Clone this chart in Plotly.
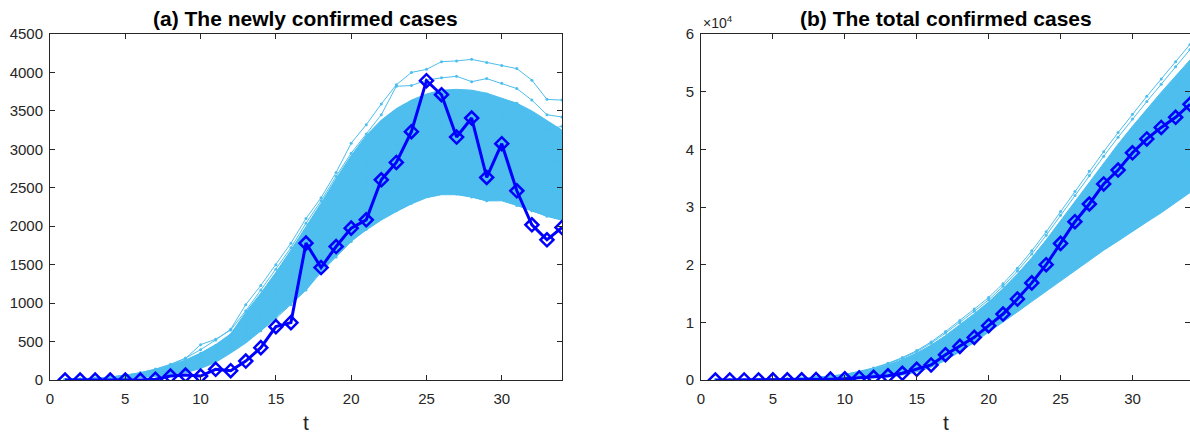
import plotly.graph_objects as go

# ---------------- data ----------------
t = list(range(1, 35))

# observed daily new confirmed cases
new_obs = [0, 0, 0, 0, 0, 0, 10, 52, 65, 52, 139, 121, 247, 421, 694, 746, 1780, 1463,
           1736, 1975, 2083, 2604, 2830, 3229, 3893, 3710, 3160, 3407, 2634, 3073, 2461,
           2018, 1823, 1984]

# observed cumulative confirmed cases
total_obs = [0, 5, 10, 15, 20, 25, 35, 80, 150, 210, 350, 470, 720, 1160, 1850, 2610,
             4390, 5830, 7390, 9420, 11440, 14040, 16840, 19990, 23690, 27450, 30520,
             33990, 36400, 39400, 41800, 43800, 45550, 47800]

# simulated new cases: band limits of the dense bundle
new_sim_low = [0, 2, 5, 10, 18, 30, 45, 65, 95, 150, 230, 350, 480, 640, 820, 1000, 1170,
               1420, 1620, 1810, 1950, 2080, 2190, 2290, 2370, 2410, 2410, 2380, 2330, 2330,
               2270, 2200, 2130, 2080]
new_sim_high = [6, 12, 22, 38, 60, 92, 135, 190, 260, 350, 460, 600, 880, 1130, 1400, 1690,
                1990, 2300, 2620, 2920, 3180, 3380, 3530, 3640, 3720, 3770, 3780, 3770, 3730,
                3670, 3600, 3500, 3380, 3250]

# simulated new cases: individual sample paths
new_sim_runs = [
    [8, 14, 25, 40, 63, 96, 142, 205, 285, 395, 520, 660, 980, 1230, 1500, 1780, 2100, 2370,
     2700, 3080, 3320, 3590, 3840, 4000, 4040, 4140, 4150, 4170, 4130, 4090, 4050, 3900, 3650, 3640],
    [7, 13, 23, 38, 60, 92, 136, 195, 280, 460, 530, 650, 900, 1170, 1440, 1720, 2040, 2330,
     2650, 2950, 3200, 3450, 3820, 3830, 3900, 3930, 3950, 3880, 3920, 3860, 3790, 3640, 3450, 3420],
    [6, 12, 21, 36, 57, 88, 130, 185, 255, 345, 450, 590, 770, 990, 1250, 1540, 1850, 2160,
     2460, 2760, 3010, 3240, 3420, 3560, 3660, 3700, 3700, 3680, 3640, 3580, 3490, 3380, 3260, 3300],
    [5, 10, 19, 33, 52, 80, 118, 170, 235, 320, 420, 545, 700, 890, 1110, 1360, 1640, 1930,
     2220, 2500, 2760, 2990, 3180, 3330, 3430, 3490, 3500, 3480, 3430, 3360, 3270, 3170, 3060, 3000],
    [5, 11, 20, 35, 55, 85, 125, 180, 250, 340, 440, 570, 730, 930, 1160, 1420, 1700, 1990,
     2280, 2560, 2820, 3050, 3260, 3420, 3580, 3600, 3700, 3660, 3720, 3640, 3600, 3420, 3250, 3150],
    [4, 9, 18, 31, 50, 77, 114, 164, 228, 310, 410, 530, 680, 860, 1080, 1320, 1580, 1860,
     2130, 2400, 2640, 2870, 3050, 3220, 3380, 3330, 3450, 3500, 3380, 3420, 3250, 3150, 2950, 2850],
    [4, 9, 17, 30, 48, 74, 110, 158, 220, 300, 395, 510, 650, 830, 1040, 1270, 1520, 1790,
     2060, 2320, 2560, 2780, 2960, 3110, 3220, 3280, 3300, 3290, 3250, 3190, 3110, 3010, 2900, 2820],
    [4, 8, 16, 28, 45, 70, 104, 150, 208, 282, 372, 480, 610, 780, 970, 1180, 1400, 1640,
     1880, 2120, 2350, 2560, 2740, 2890, 3000, 3070, 3100, 3090, 3050, 2990, 2910, 2810, 2700, 2620],
    [3, 7, 14, 26, 42, 65, 97, 140, 195, 265, 350, 450, 570, 720, 890, 1080, 1290, 1510,
     1740, 1960, 2180, 2380, 2560, 2710, 2820, 2880, 2900, 2890, 2850, 2780, 2700, 2600, 2490, 2400],
    [3, 6, 13, 24, 39, 60, 90, 130, 182, 248, 328, 420, 535, 675, 835, 1015, 1210, 1420,
     1630, 1840, 2040, 2230, 2400, 2530, 2630, 2690, 2710, 2700, 2660, 2600, 2520, 2430, 2330, 2270],
    [2, 5, 11, 21, 35, 55, 82, 118, 165, 225, 300, 390, 500, 640, 800, 980, 1170, 1400,
     1600, 1800, 1960, 2100, 2200, 2300, 2400, 2440, 2420, 2380, 2330, 2350, 2270, 2200, 2130, 2080],
]

# simulated cumulative cases: band limits of the dense bundle
total_sim_low = [0, 2, 5, 10, 18, 30, 48, 75, 110, 160, 230, 320, 500, 850, 1400, 2200, 3400,
                 4900, 6500, 8300, 10000, 11800, 13600, 15400, 17200, 19000, 20800, 22500,
                 24100, 25800, 27400, 29000, 30700, 32500]
total_sim_high = [9, 22, 44, 76, 125, 195, 292, 438, 630, 875, 1340, 1900, 2630, 3560, 4680,
                  6050, 7700, 9550, 11500, 13550, 15850, 18400, 21200, 24300, 27600, 31000,
                  34400, 37700, 40900, 44000, 47000, 49900, 52700, 55500]

# simulated cumulative cases: individual sample paths
total_sim_runs = [
    [10, 25, 50, 85, 140, 220, 330, 490, 700, 980, 1500, 2100, 2900, 3900, 5100, 6600, 8400,
     10300, 12300, 14300, 16700, 19400, 22400, 25700, 29200, 32700, 36200, 39600, 42900, 46100,
     49200, 52200, 55200, 58200],
    [10, 24, 48, 82, 135, 212, 318, 472, 675, 945, 1450, 2030, 2800, 3770, 4930, 6380, 8130,
     9970, 11920, 13900, 16250, 18900, 21850, 25100, 28550, 32000, 35450, 38800, 42100, 45250,
     48300, 51300, 54300, 57300],
    [8, 20, 40, 70, 115, 180, 270, 400, 580, 810, 1240, 1750, 2450, 3300, 4350, 5650, 7200,
     8900, 10800, 12800, 15100, 17700, 20500, 23600, 26900, 30200, 33500, 36700, 39800, 42800,
     45700, 48500, 51200, 53900],
    [7, 17, 35, 60, 100, 155, 235, 350, 505, 710, 1080, 1530, 2150, 2900, 3850, 5000, 6400,
     8000, 9700, 11600, 13700, 16000, 18500, 21200, 24100, 27100, 30100, 33000, 35800, 38500,
     41100, 43600, 46000, 48300],
    [6, 15, 30, 52, 86, 135, 205, 305, 440, 620, 950, 1350, 1900, 2580, 3450, 4500, 5750,
     7200, 8800, 10500, 12400, 14500, 16800, 19300, 21900, 24600, 27300, 29900, 32400, 34800,
     37100, 39300, 41400, 43400],
    [5, 13, 26, 45, 75, 118, 180, 268, 385, 540, 830, 1180, 1660, 2260, 3020, 3950, 5100,
     6400, 7800, 9400, 11100, 13000, 15000, 17100, 19300, 21600, 23800, 26000, 28100, 30100,
     32000, 33900, 35700, 37400],
]

x_ticks = [0, 5, 10, 15, 20, 25, 30]
new_ticks = [0, 500, 1000, 1500, 2000, 2500, 3000, 3500, 4000, 4500]
total_ticks = [0, 10000, 20000, 30000, 40000, 50000, 60000]
total_tick_text = ["0", "1", "2", "3", "4", "5", "6"]

# ---------------- styling ----------------
SIM = "#4DBEEE"
OBS = "#0000FF"
AX = "#262626"
FONT = "Liberation Sans, Arial, Helvetica, sans-serif"

W, H = 1190, 434
# plot-area pixel boxes
L_X0, L_X1 = 50, 562
R_X0, R_X1 = 701, 1190
Y_TOP, Y_BOT = 34, 380

fig = go.Figure()


def add_panel(xa, ya, low, high, runs, obs):
    fig.add_trace(go.Scatter(x=t, y=low, xaxis=xa, yaxis=ya, mode="lines",
                             line=dict(color=SIM, width=1), hoverinfo="skip"))
    fig.add_trace(go.Scatter(x=t, y=high, xaxis=xa, yaxis=ya, mode="lines",
                             line=dict(color=SIM, width=1), fill="tonexty",
                             fillcolor=SIM, hoverinfo="skip"))
    for run in runs:
        fig.add_trace(go.Scatter(x=t, y=run, xaxis=xa, yaxis=ya, mode="lines+markers",
                                 line=dict(color=SIM, width=1),
                                 marker=dict(color=SIM, size=3)))
    fig.add_trace(go.Scatter(x=t, y=obs, xaxis=xa, yaxis=ya, mode="lines+markers",
                             line=dict(color=OBS, width=3),
                             marker=dict(symbol="diamond-open", size=10, color=OBS,
                                         line=dict(color=OBS, width=2.5))))


add_panel("x", "y", new_sim_low, new_sim_high, new_sim_runs, new_obs)
add_panel("x2", "y2", total_sim_low, total_sim_high, total_sim_runs, total_obs)

axis_common = dict(showgrid=False, zeroline=False, showline=True, linecolor=AX,
                   linewidth=1, mirror="ticks", ticks="inside", ticklen=5,
                   tickcolor=AX, tickwidth=1, automargin=False,
                   tickfont=dict(family=FONT, size=15, color=AX))

ydom = [(H - Y_BOT) / H, (H - Y_TOP) / H]

fig.update_layout(
    template="none",
    width=W, height=H, autosize=False,
    margin=dict(l=0, r=0, t=0, b=0, pad=0),
    paper_bgcolor="white", plot_bgcolor="white", showlegend=False,
    xaxis=dict(domain=[L_X0 / W, L_X1 / W], range=[0, 34], tickvals=x_ticks,
               anchor="y", ticklabelstandoff=5, **axis_common),
    yaxis=dict(domain=ydom, range=[0, 4500], tickvals=new_ticks, anchor="x",
               ticklabelstandoff=3, **axis_common),
    xaxis2=dict(domain=[R_X0 / W, R_X1 / W], range=[0, 34], tickvals=x_ticks,
                anchor="y2", ticklabelstandoff=5, **axis_common),
    yaxis2=dict(domain=ydom, range=[0, 60000], tickvals=total_ticks,
                ticktext=total_tick_text, anchor="x2", ticklabelstandoff=3,
                **axis_common),
)

title_font = dict(family=FONT, size=21, color="black")
label_font = dict(family=FONT, size=21, color=AX)
annotations = [
    dict(text="<b>(a) The newly confirmed cases</b>", x=(L_X0 + L_X1) / 2 / W,
         y=1 - 18 / H, xref="paper", yref="paper", showarrow=False,
         xanchor="center", yanchor="middle", font=title_font),
    dict(text="<b>(b) The total confirmed cases</b>", x=(R_X0 + R_X1) / 2 / W,
         y=1 - 18 / H, xref="paper", yref="paper", showarrow=False,
         xanchor="center", yanchor="middle", font=title_font),
    dict(text="t", x=(L_X0 + L_X1) / 2 / W, y=1 - 422 / H, xref="paper", yref="paper",
         showarrow=False, xanchor="center", yanchor="middle", font=label_font),
    dict(text="t", x=(R_X0 + R_X1) / 2 / W, y=1 - 422 / H, xref="paper", yref="paper",
         showarrow=False, xanchor="center", yanchor="middle", font=label_font),
    dict(text="×10<sup>4</sup>", x=R_X0 / W, y=1 - 22 / H, xref="paper", yref="paper",
         showarrow=False, xanchor="left", yanchor="middle",
         font=dict(family=FONT, size=14, color=AX)),
]
fig.update_layout(annotations=annotations)

fig.write_html("out.html")
